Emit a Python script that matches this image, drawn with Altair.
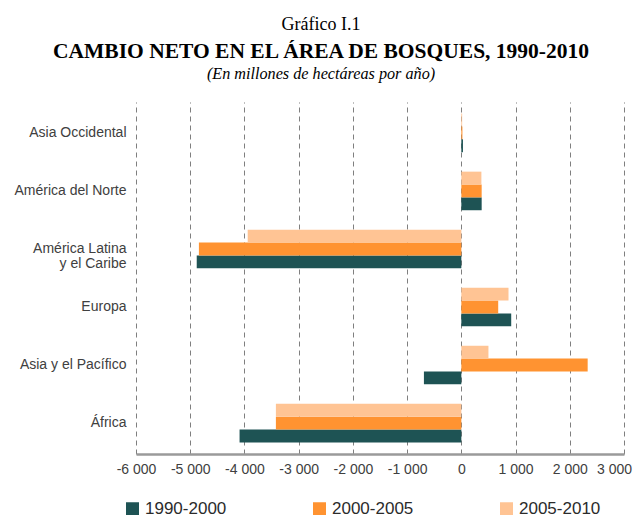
import altair as alt
import pandas as pd

regions = ["Asia Occidental", "América del Norte", "América Latina y el Caribe",
           "Europa", "Asia y el Pacífico", "África"]
periods = ["1990-2000", "2000-2005", "2005-2010"]
v_1990_2000 = [30, 375, -4880, 920, -690, -4090]
v_2000_2005 = [20, 375, -4840, 680, 2330, -3420]
v_2005_2010 = [15, 370, -3940, 870, 500, -3420]
colors = ["#1E5354", "#FF9331", "#FFC494"]
x_ticks = [-6000, -5000, -4000, -3000, -2000, -1000, 0, 1000, 2000, 3000]

title_lines = ["Gráfico I.1", "CAMBIO NETO EN EL ÁREA DE BOSQUES, 1990-2010",
               "(En millones de hectáreas por año)"]

rows = []
for p, vals in zip(periods, [v_1990_2000, v_2000_2005, v_2005_2010]):
    for r, v in zip(regions, vals):
        rows.append({"region": r, "periodo": p, "valor": v})
df = pd.DataFrame(rows)

W, H = 488, 352

bars = alt.Chart(df).mark_bar().encode(
    y=alt.Y("region:N", sort=regions,
            scale=alt.Scale(paddingInner=0.335),
            axis=alt.Axis(title=None, domain=False, ticks=False, labelPadding=10,
                          labelFont="Liberation Sans", labelFontSize=14,
                          labelColor="#404040", labelLineHeight=15, labelLimit=200,
                          labelExpr="datum.label == 'América Latina y el Caribe' ? ['América Latina', 'y el Caribe'] : datum.label")),
    yOffset=alt.YOffset("periodo:N", sort=["2005-2010", "2000-2005", "1990-2000"],
                        scale=alt.Scale(paddingInner=0, paddingOuter=0)),
    x=alt.X("valor:Q", scale=alt.Scale(domain=[-6000, 3000], nice=False, zero=False),
            axis=alt.Axis(title=None, values=x_ticks, grid=True, gridDash=[5, 4],
                          gridColor="#7f7f7f", gridWidth=1, ticks=False,
                          domainColor="#9a9a9a", domainWidth=2.5, labelPadding=8,
                          labelFont="Liberation Sans", labelFontSize=14,
                          labelColor="#404040", labelOverlap=False, labelFlush=False,
                          labelOffset={"condition": {"test": "datum.value == 3000", "value": -10},
                                       "value": 0},
                          labelExpr="replace(replace(format(datum.value, ','), ',', ' '), '\u2212', '-')")),
    color=alt.Color("periodo:N", sort=periods,
                    scale=alt.Scale(domain=periods, range=colors),
                    legend=alt.Legend(title=None, orient="none", legendX=-12, legendY=398,
                                      direction="horizontal", columns=3, columnPadding=84,
                                      symbolType="square", symbolSize=169,
                                      symbolStrokeWidth=0, labelOffset=4,
                                      labelFont="Liberation Sans", labelFontSize=17,
                                      labelColor="#2b2b2b", padding=0)),
)

def title_text(i, y, size, weight, style):
    return alt.Chart(pd.DataFrame({"t": [title_lines[i]]})).mark_text(
        font="Liberation Serif", fontSize=size, fontWeight=weight, fontStyle=style,
        baseline="alphabetic", align="center", color="#000000"
    ).encode(x=alt.value(185), y=alt.value(y), text="t:N")

chart = alt.layer(
    bars,
    title_text(0, -72, 18, "normal", "normal"),
    title_text(1, -44.5, 21.5, "bold", "normal"),
    title_text(2, -23.5, 16.2, "normal", "italic"),
).properties(
    width=W, height=H,
    autosize=alt.AutoSizeParams(type="none"),
    padding={"left": 128, "top": 94, "right": 10, "bottom": 66},
).configure_view(stroke=None)

chart.save("out.html", embed_options={"renderer": "svg", "actions": False})
